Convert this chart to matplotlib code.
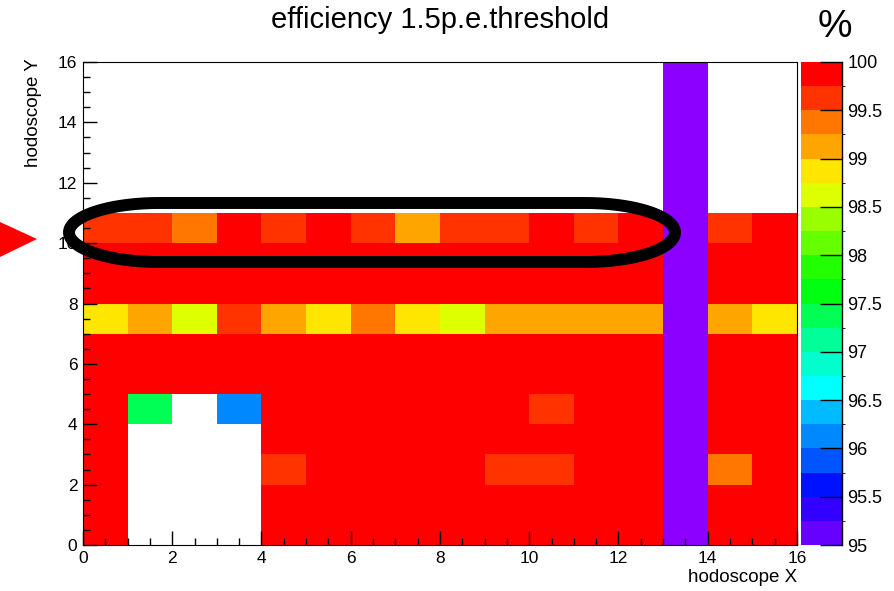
"""
Hodoscope efficiency map at 1.5 p.e. threshold (ROOT COLZ style).
"""

import matplotlib
matplotlib.use("Agg")
import matplotlib.pyplot as plt
import numpy as np
from matplotlib.colors import ListedColormap, BoundaryNorm
from matplotlib.patches import Polygon
from matplotlib.ticker import MultipleLocator

plt.rcParams["font.family"] = ["Liberation Sans", "DejaVu Sans"]

nan = np.nan
DEAD = 0.0  # channel 13: dead / below range

# efficiency [%] per cell, row index = hodoscope Y bin (0 at bottom), column = X bin
x_edges = list(range(17))
y_edges = list(range(17))

row_0 = [99.9, nan, nan, nan, 99.9, 99.9, 99.9, 99.9, 99.9, 99.9, 99.9, 99.9, 99.9, DEAD, 99.9, 99.9]
row_1 = [99.9, nan, nan, nan, 99.9, 99.9, 99.9, 99.9, 99.9, 99.9, 99.9, 99.9, 99.9, DEAD, 99.9, 99.9]
row_2 = [99.9, nan, nan, nan, 99.6, 99.9, 99.9, 99.9, 99.9, 99.6, 99.6, 99.9, 99.9, DEAD, 99.4, 99.9]
row_3 = [99.9, nan, nan, nan, 99.9, 99.9, 99.9, 99.9, 99.9, 99.9, 99.9, 99.9, 99.9, DEAD, 99.9, 99.9]
row_4 = [99.9, 97.4, nan, 96.1, 99.9, 99.9, 99.9, 99.9, 99.9, 99.9, 99.6, 99.9, 99.9, DEAD, 99.9, 99.9]
row_5 = [99.9] * 13 + [DEAD] + [99.9] * 2
row_6 = [99.9] * 13 + [DEAD] + [99.9] * 2
row_7 = [98.9, 99.1, 98.6, 99.6, 99.1, 98.9, 99.4, 98.9, 98.6, 99.1, 99.1, 99.1, 99.1, DEAD, 99.1, 98.9]
row_8 = [99.9] * 13 + [DEAD] + [99.9] * 2
row_9 = [99.9] * 13 + [DEAD] + [99.9] * 2
row_10 = [99.6, 99.6, 99.4, 99.9, 99.6, 99.9, 99.6, 99.1, 99.6, 99.6, 99.9, 99.6, 99.9, DEAD, 99.6, 99.9]
row_empty = [nan] * 13 + [DEAD] + [nan] * 2

eff = np.array([row_0, row_1, row_2, row_3, row_4, row_5, row_6, row_7,
                row_8, row_9, row_10] + [row_empty] * 5)

levels = np.arange(95.0, 100.01, 0.25)
cb_ticks = [95, 95.5, 96, 96.5, 97, 97.5, 98, 98.5, 99, 99.5, 100]

# 20 bands, 95 (bottom) -> 100 (top)
band_colors = ["#6600FF", "#3300FF", "#0011FF", "#0055FF", "#0088FF",
               "#00BBFF", "#00FFFF", "#00FFCC", "#00FF99", "#00FF55",
               "#00FF11", "#22FF00", "#66FF00", "#99FF00", "#DDFF00",
               "#FFE600", "#FFA500", "#FF7700", "#FF3300", "#FF0000"]
cmap = ListedColormap(band_colors)
cmap.set_under("#8B00FF")
cmap.set_bad("white")
norm = BoundaryNorm(levels, cmap.N)

W, H = 895, 591
fig = plt.figure(figsize=(W / 100, H / 100), dpi=100)


def fx(px):
    return px / W


def fy(py):
    return 1 - py / H


ax = fig.add_axes([fx(83), fy(545), fx(797) - fx(83), fy(62) - fy(545)])
mesh = ax.pcolormesh(x_edges, y_edges, np.ma.masked_invalid(eff),
                     cmap=cmap, norm=norm)
ax.set_xlim(0, 16)
ax.set_ylim(0, 16)
ax.xaxis.set_major_locator(MultipleLocator(2))
ax.yaxis.set_major_locator(MultipleLocator(2))
ax.xaxis.set_minor_locator(MultipleLocator(0.5))
ax.yaxis.set_minor_locator(MultipleLocator(0.5))
ax.tick_params(which="both", direction="in", top=False, right=False,
               labelsize=12.5, width=1)
ax.tick_params(which="major", length=10, pad=4)
ax.tick_params(which="minor", length=5)
for s in ax.spines.values():
    s.set_linewidth(0.8)
ax.set_axisbelow(False)

cax = fig.add_axes([fx(801), fy(545), fx(842) - fx(801), fy(62) - fy(545)])
cb = fig.colorbar(mesh, cax=cax, ticks=cb_ticks, extend="neither")
cb.outline.set_visible(False)
cax.plot([1, 1], [0, 1], color="black", lw=1, transform=cax.transAxes, clip_on=False)
cax.tick_params(direction="in", length=16, width=1, labelsize=13, pad=4)
cax.set_yticklabels([f"{t:g}" for t in cb_ticks])

fig.text(fx(440), fy(20), "efficiency 1.5p.e.threshold", fontsize=21,
         ha="center", va="center")
fig.text(fx(835), fy(27), "%", fontsize=28, ha="center", va="center")
fig.text(fx(797), fy(578), "hodoscope X", fontsize=13.5, ha="right", va="center")
fig.text(fx(33), fy(58), "hodoscope Y", fontsize=13.5, rotation=90,
         ha="center", va="top")

# highlighted row: black stadium outline around y = 10..11
rx, ry = 90, 29.5
x_left, x_right, y_mid = 69, 675, 232.5
t = np.linspace(-np.pi / 2, np.pi / 2, 60)
right_end = np.column_stack([x_right - rx + rx * np.cos(t), y_mid - ry * np.sin(t)])
left_end = np.column_stack([x_left + rx - rx * np.cos(t), y_mid + ry * np.sin(t)])
outline = np.vstack([right_end, left_end])
pts = np.column_stack([fx(outline[:, 0]), fy(outline[:, 1])])
fig.add_artist(Polygon(pts, closed=True, fill=False, edgecolor="black",
                       linewidth=8.6, transform=fig.transFigure))

# red arrow pointing at the row
arrow = [(fx(0), fy(222)), (fx(37), fy(239)), (fx(0), fy(257))]
fig.add_artist(Polygon(arrow, closed=True, facecolor="red", edgecolor="none",
                       transform=fig.transFigure))

fig.savefig("out.png", dpi=100)
